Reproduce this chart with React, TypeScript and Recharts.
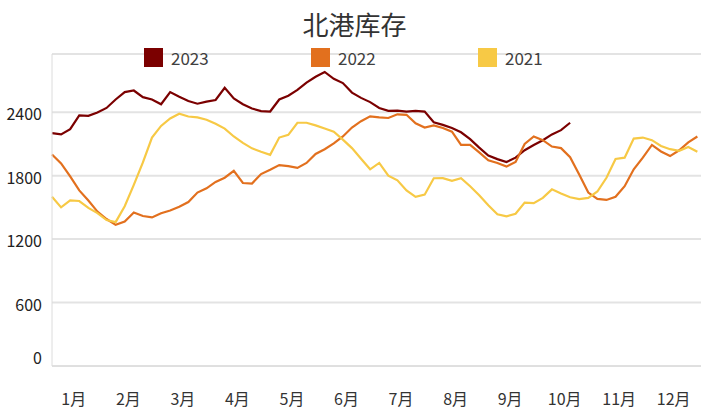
import { LineChart, Line, XAxis, YAxis, CartesianGrid, Legend } from "recharts"

const FONT = "'Noto Sans CJK SC', 'Noto Sans', sans-serif"

const months = ["1月", "2月", "3月", "4月", "5月", "6月", "7月", "8月", "9月", "10月", "11月", "12月"]
const monthTicks = [0.5, 1.5, 2.5, 3.5, 4.5, 5.5, 6.5, 7.5, 8.5, 9.5, 10.5, 11.5]
const yTicks = [0, 600, 1200, 1800, 2400, 2950]

// sampled every 1/6 month, starting near Jan 4
const inv2023 = [
  2202, 2190, 2240, 2370, 2365, 2397, 2440, 2520, 2590, 2605, 2542, 2520,
  2475, 2590, 2545, 2505, 2480, 2500, 2515, 2630, 2530, 2475, 2435, 2410,
  2406, 2520, 2555, 2610, 2680, 2735, 2780, 2715, 2675, 2585, 2535, 2495,
  2440, 2412, 2415, 2405, 2412, 2405, 2305, 2280, 2250, 2210, 2145, 2065,
  1990, 1956, 1928, 1970, 2040, 2090, 2135, 2190, 2230, 2300,
]
const inv2022 = [
  2000, 1915, 1792, 1660, 1565, 1460, 1390, 1335, 1365, 1452, 1418, 1405,
  1445, 1470, 1505, 1550, 1640, 1680, 1740, 1780, 1845, 1730, 1725, 1815,
  1855, 1900, 1890, 1873, 1920, 2005, 2050, 2105, 2170, 2255, 2315, 2360,
  2350, 2345, 2380, 2375, 2295, 2255, 2275, 2250, 2215, 2091, 2091, 2020,
  1945, 1920, 1885, 1930, 2100, 2170, 2135, 2075, 2060, 1975, 1810, 1640,
  1580, 1570, 1600, 1700, 1860, 1970, 2090, 2028, 1985, 2040, 2115, 2170,
]
const inv2021 = [
  1600, 1500, 1565, 1560, 1495, 1445, 1380, 1360, 1510, 1713, 1925, 2160,
  2270, 2340, 2385, 2359, 2350, 2328, 2290, 2245, 2170, 2110, 2058, 2025,
  1997, 2160, 2185, 2300, 2300, 2275, 2245, 2215, 2140, 2060, 1960, 1860,
  1920, 1800, 1755, 1660, 1600, 1620, 1775, 1776, 1750, 1775, 1700, 1615,
  1520, 1435, 1415, 1440, 1545, 1540, 1590, 1670, 1630, 1595, 1578, 1590,
  1650, 1780, 1958, 1970, 2150, 2160, 2135, 2080, 2050, 2035, 2070, 2025,
]

const series = [
  { key: "y2023", name: "2023", color: "#7B0000" },
  { key: "y2022", name: "2022", color: "#E2701E" },
  { key: "y2021", name: "2021", color: "#F7C945" },
]

const data = inv2022.map((_, i) => ({
  x: 0.1 + i / 6,
  y2023: inv2023[i] ?? null,
  y2022: inv2022[i],
  y2021: inv2021[i],
}))

function YTick({ x, y, payload }: any) {
  if (payload.value === 2950) return <g />
  // the zero label sits a bit above its line in the original
  const shift = payload.value === 0 ? -9 : 1
  return (
    <text x={x} y={y + shift} textAnchor="end" dominantBaseline="central" fontSize={16} fill="#222" fontFamily={FONT}>
      {payload.value}
    </text>
  )
}

function LegendBox() {
  return (
    <div style={{ display: "flex", paddingLeft: 144, fontFamily: FONT }}>
      {series.map((s) => (
        <div key={s.key} style={{ width: 167, display: "flex", alignItems: "center" }}>
          <span style={{ width: 19, height: 19, background: s.color, display: "inline-block" }} />
          <span style={{ marginLeft: 8, fontSize: 17, color: "#404040" }}>{s.name}</span>
        </div>
      ))}
    </div>
  )
}

export default function App() {
  return (
    <div style={{ position: "absolute", left: 0, top: 0, width: 709, height: 420, background: "#fff" }}>
      <div
        style={{
          position: "absolute", top: 6, left: 0, width: 709, textAlign: "center",
          fontSize: 26, color: "#333", fontFamily: FONT, lineHeight: "36px",
        }}
      >
        北港库存
      </div>
      <LineChart width={709} height={420} data={data} margin={{ top: 54, right: 8, left: 0, bottom: 0 }}>
        <CartesianGrid vertical={false} stroke="#e3e3e3" strokeWidth={2} />
        <XAxis
          dataKey="x"
          type="number"
          domain={[0.1, 12]}
          ticks={monthTicks}
          tickFormatter={(v) => months[Math.floor(v)]}
          height={54}
          tickSize={0}
          tickMargin={28}
          axisLine={{ stroke: "#dcdcdc" }}
          tick={{ fontSize: 16, fill: "#333", fontFamily: FONT }}
        />
        <YAxis
          type="number"
          domain={[0, 2950]}
          ticks={yTicks}
          width={52}
          tickSize={0}
          tickMargin={10}
          axisLine={{ stroke: "#dcdcdc" }}
          tick={<YTick />}
        />
        <Legend
          layout="horizontal"
          verticalAlign="middle"
          align="center"
          wrapperStyle={{ top: 45, left: 0, width: 709 }}
          content={<LegendBox />}
        />
        {series.map((s) => (
          <Line
            key={s.key}
            dataKey={s.key}
            name={s.name}
            stroke={s.color}
            strokeWidth={2.2}
            dot={false}
            type="linear"
            isAnimationActive={false}
          />
        ))}
      </LineChart>
    </div>
  )
}
